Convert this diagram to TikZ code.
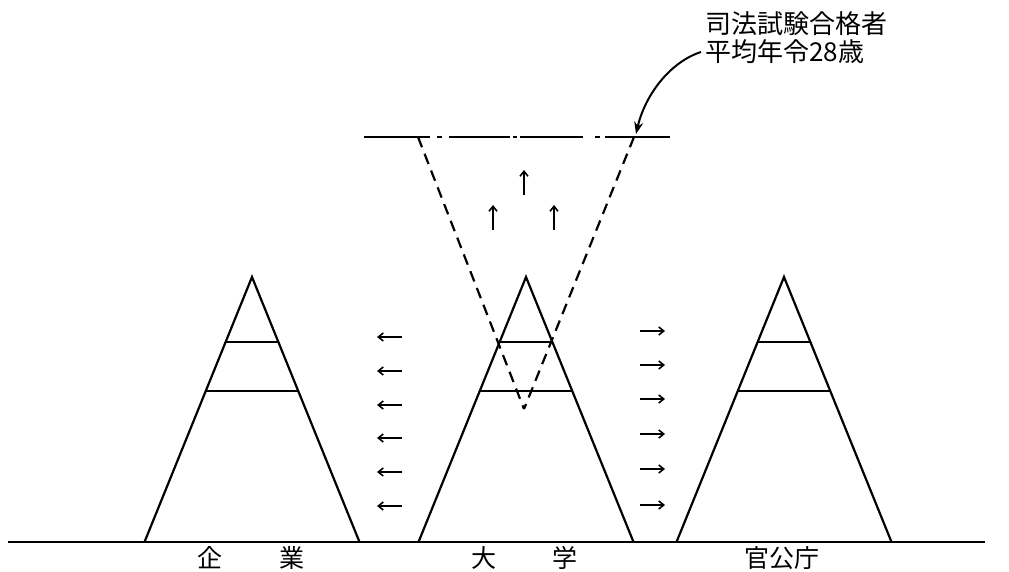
\documentclass[tikz,border=0pt]{standalone}
\usepackage{fontspec}
\newfontfamily\cjk{Noto Sans CJK JP}
\usetikzlibrary{arrows.meta,calc}
\tikzset{
  ln/.style={line width=2.2pt},
  dsh/.style={line width=2.2pt, dash pattern=on 11pt off 7pt},
  smallarr/.style={line width=1.6pt, -{Straight Barb[length=5pt,width=8pt,line width=1.6pt]}},
  lbl/.style={font=\cjk\fontsize{25}{28}\selectfont, inner sep=0pt},
}
\begin{document}
\begin{tikzpicture}[x=1pt,y=-1pt]
\useasboundingbox (0,0) rectangle (1009,572);
% ground
\coordinate (g1) at (8,542);
\coordinate (g2) at (985,542);
\draw[ln] (g1) -- (g2);
% triangles
\foreach \n/\c in {L/252, M/526, R/784}{
  \coordinate (\n apex) at (\c,277);
  \coordinate (\n bl) at (\c-107.5,542);
  \coordinate (\n br) at (\c+107.5,542);
  \draw[ln] (\n bl) -- (\n apex) -- (\n br);
  \draw[ln] ($(\n apex)!0.2453!(\n bl)$) -- ($(\n apex)!0.2453!(\n br)$);
  \draw[ln] ($(\n apex)!0.4302!(\n bl)$) -- ($(\n apex)!0.4302!(\n br)$);
}
% top line (dash-dot)
\coordinate (t1) at (364,137);
\coordinate (t2) at (670,137);
\draw[ln] (364,137) -- (430,137);
\draw[ln] (437,137) -- (442,137);
\draw[ln] (449,137) -- (510,137);
\draw[ln] (513,137) -- (517,137);
\draw[ln] (520,137) -- (583,137);
\draw[ln] (595,137) -- (600,137);
\draw[ln] (605,137) -- (670,137);
% dashed V
\coordinate (vl) at (418,137);
\coordinate (vr) at (634,137);
\coordinate (vb) at (524,409);
\draw[dsh] (vl) -- (vb);
\draw[dsh] (vr) -- (vb);
% up arrows
\draw[smallarr] (524,195) -- (524,170);
\draw[smallarr] (493,230) -- (493,205);
\draw[smallarr] (554,230) -- (554,205);
% left arrows
\foreach \y in {337,371,405,438,472,506}{
  \draw[smallarr] (402,\y) -- (377,\y);
}
% right arrows
\foreach \y in {331,365,399,434,469,505}{
  \draw[smallarr] (640,\y) -- (665,\y);
}
% labels
\node[lbl] (k1) at (210,558) {企};
\node[lbl] (k2) at (292,558) {業};
\node[lbl] (d1) at (484,558) {大};
\node[lbl] (d2) at (565,558) {学};
\node[lbl] (kk) at (782,558) {官公庁};
\node[lbl, anchor=north west, align=left, font=\cjk\fontsize{26}{28}\selectfont] (note) at (705,11) {司法試験合格者\\平均年令28歳};
% curved arrow
\coordinate (cs) at (701,52);
\coordinate (ce) at (636,134);
\draw[line width=2pt, -{Stealth[length=12pt,width=9pt]}] (cs) .. controls (670,62) and (645,95) .. (ce);
\end{tikzpicture}
\end{document}
